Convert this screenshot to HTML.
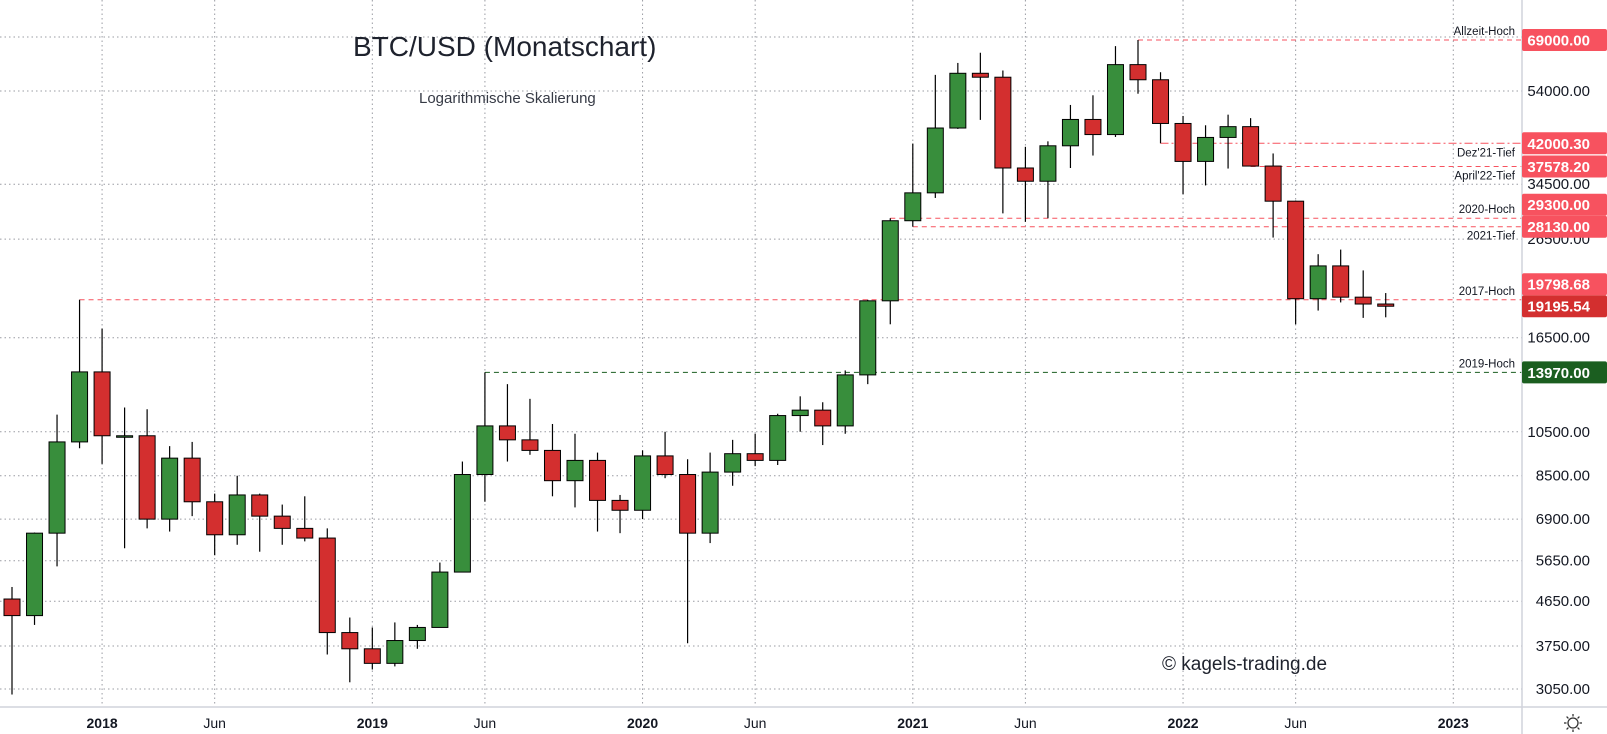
<!DOCTYPE html>
<html><head><meta charset="utf-8"><style>
html,body{margin:0;padding:0;background:#fff;}
svg{display:block;font-family:"Liberation Sans",sans-serif;}
</style></head><body>
<svg id="chart" width="1607" height="734" viewBox="0 0 1607 734" xmlns="http://www.w3.org/2000/svg">
<rect x="0" y="0" width="1607" height="734" fill="#fff"/>
<g id="grid"></g>
<g id="levels"></g>
<g id="candles"></g>
<line x1="1522" y1="0" x2="1522" y2="734" stroke="#d1d4dc" stroke-width="1.5"/>
<line x1="0" y1="707" x2="1607" y2="707" stroke="#d1d4dc" stroke-width="1.5"/>
<g id="yaxis"></g>
<g id="xaxis"></g>
<text x="353" y="56" font-size="28" fill="#1e222d">BTC/USD (Monatschart)</text>
<text x="419" y="103" font-size="15" fill="#363a45">Logarithmische Skalierung</text>
<text x="1162" y="670" font-size="19" fill="#1e222d">© kagels-trading.de</text>
<g transform="translate(1573,723)" stroke="#333" fill="none" stroke-width="1.3">
<circle r="5"/><line x1="0" y1="-9" x2="0" y2="-6.5"/><line x1="0" y1="9" x2="0" y2="6.5"/><line x1="-9" y1="0" x2="-6.5" y2="0"/><line x1="9" y1="0" x2="6.5" y2="0"/>
<line x1="-6.4" y1="-6.4" x2="-4.6" y2="-4.6"/><line x1="6.4" y1="6.4" x2="4.6" y2="4.6"/><line x1="-6.4" y1="6.4" x2="-4.6" y2="4.6"/><line x1="6.4" y1="-6.4" x2="4.6" y2="-4.6"/>
</g>
</svg>
<script>
// Sep 2017 .. Oct 2022 monthly OHLC
const opens  = [4700,4340,6450,10000,14000,10300,10300,6900,9250,7500,6400,7750,7000,6600,6300,4000,3700,3450,3850,4100,5350,8550,10800,10100,9600,8300,9150,7550,7200,9350,8550,6450,8650,9450,9150,11350,11650,10800,13800,19700,28950,33100,45200,58800,57700,37300,35000,41500,47100,43800,61300,57000,46200,38500,43200,45500,37650,31800,19900,23300,20050,19400];
const highs  = [4980,6470,11400,19798,17250,11800,11700,9800,10000,7800,8500,7800,7400,7700,6600,4300,4100,4200,4150,5600,9100,13970,13200,12300,10900,10400,9500,7750,9600,10500,9200,9500,10100,10400,11450,12450,12100,14100,19800,29300,41950,58350,61800,64900,59600,41300,42400,50500,52900,67000,69000,59100,47900,45800,48200,47400,40000,31900,24650,25200,22800,20450];
const lows   = [2970,4150,5500,9700,9000,6000,6600,6500,7000,5800,6100,5900,6100,6200,3600,3150,3350,3400,3700,4100,5350,7500,9100,9400,7700,7300,6500,6450,6900,8400,3800,6150,8100,8900,8950,10500,9850,10400,13200,17600,28130,32300,45000,47000,30000,28800,29300,37300,39600,43300,53300,42000,32900,34300,37200,37578,26700,17600,18800,19550,18150,18200];
const closes = [4340,6450,10000,14000,10300,10300,6900,9250,7500,6400,7750,7000,6600,6300,4000,3700,3450,3850,4100,5350,8550,10800,10100,9600,8300,9150,7550,7200,9350,8550,6450,8650,9450,9150,11350,11650,10800,13800,19700,28950,33100,45200,58800,57700,37300,35000,41500,47100,43800,61300,57000,46200,38500,43200,45500,37650,31800,19900,23300,20050,19400,19195];
const yTicks = [54000,34500,26500,16500,10500,8500,6900,5650,4650,3750,3050];
const yGridOnly = [70000];
const xLabels = ["2018","Jun","2019","Jun","2020","Jun","2021","Jun","2022","Jun","2023"];
const xLabelMonths = [4,9,16,21,28,33,40,45,52,57,64];
const levelValues = [69000,42000.30,37578.20,29300,28130,19798.68,13970];
const levelNames = ["Allzeit-Hoch","Dez'21-Tief","April'22-Tief","2020-Hoch","2021-Tief","2017-Hoch","2019-Hoch"];
const levelStartMonths = [50,51,55,39,40,3,21];
const lastPrice = 19195.54;

const NS="http://www.w3.org/2000/svg";
const Y0=Math.log(3050), Y1=Math.log(69000);
function y(v){return 689-(Math.log(v)-Y0)*(689-40)/(Y1-Y0);}
function x(i){return 12+i*22.52;}
function mk(tag,attrs,parent,txt){const e=document.createElementNS(NS,tag);for(const k in attrs)e.setAttribute(k,attrs[k]);if(txt!==undefined)e.textContent=txt;parent.appendChild(e);return e;}

const grid=document.getElementById('grid');
yTicks.concat(yGridOnly).forEach(v=>{
  const l=mk('line',{x1:0,x2:1522,y1:y(v),y2:y(v),stroke:'#9a9ca3','stroke-width':1,'stroke-dasharray':'1.5 3'},grid);
  
  
});
xLabelMonths.forEach(m=>{
  const l=mk('line',{x1:x(m),x2:x(m),y1:0,y2:707,stroke:'#9a9ca3','stroke-width':1,'stroke-dasharray':'1.5 3'},grid);
  
  
});

const ya=document.getElementById('yaxis');
yTicks.forEach(v=>{
  const t=mk('text',{x:1590,y:y(v)+5,'font-size':15,fill:'#131722','text-anchor':'end'},ya,v.toFixed(2));
  
  
});
const xa=document.getElementById('xaxis');
xLabels.forEach((s,k)=>{
  const bold=/^\d/.test(s);
  const t=mk('text',{x:x(xLabelMonths[k]),y:728,'font-size':14,fill:'#131722','text-anchor':'middle','font-weight':bold?'bold':'normal'},xa,s);
  
  
});

const lv=document.getElementById('levels');
const levelColors=['#f7525f','#f7525f','#f7525f','#f7525f','#f7525f','#f7525f','#1b5e20'];
const labelBelow=[false,true,true,false,true,false,false];
levelValues.forEach((v,k)=>{
  const yy=y(v);
  const dash=k===1?'8 3 2 3':'5 4';
  const l=mk('line',{x1:x(levelStartMonths[k]),x2:1522,y1:yy,y2:yy,stroke:levelColors[k],'stroke-width':1,'stroke-dasharray':dash},lv);
  
  
  const t=mk('text',{x:1515,y:labelBelow[k]?yy+13:yy-5,'font-size':11.5,fill:'#131722','text-anchor':'end'},lv,levelNames[k]);
  
  
});

// price boxes with overlap avoidance (bottom-up)
const boxes=levelValues.map((v,k)=>({v:v,c:k===6?'#1b5e20':'#f7525f'}));
boxes.push({v:lastPrice,c:'#d32f2f'});
boxes.sort((a,b)=>a.v-b.v);
let prevY=1e9;
boxes.forEach(b=>{
  let yy=y(b.v);
  if(prevY-yy<22) yy=prevY-22;
  b.y=yy; prevY=yy;
});
boxes.forEach(b=>{
  const r=mk('rect',{x:1522,y:b.y-11,width:85,height:22,fill:b.c,rx:2},ya);
  
  
  const t=mk('text',{x:1590,y:b.y+5.5,'font-size':15,'font-weight':'bold',fill:'#fff','text-anchor':'end'},ya,b.v.toFixed(2));
  
  
});

const cg=document.getElementById('candles');
opens.forEach((o,i)=>{
  const c=closes[i],cx=x(i),up=c>=o;
  const w=mk('line',{x1:cx,x2:cx,y1:y(highs[i]),y2:y(lows[i]),stroke:'#000','stroke-width':1.2},cg);
  
  
  const top=y(Math.max(o,c)),bot=y(Math.min(o,c));
  const b=mk('rect',{x:cx-8,y:top,width:16,height:Math.max(bot-top,1.5),fill:up?'#388e3c':'#d32f2f',stroke:'#000','stroke-width':1},cg);
  
  
});
</script>
</body></html>
